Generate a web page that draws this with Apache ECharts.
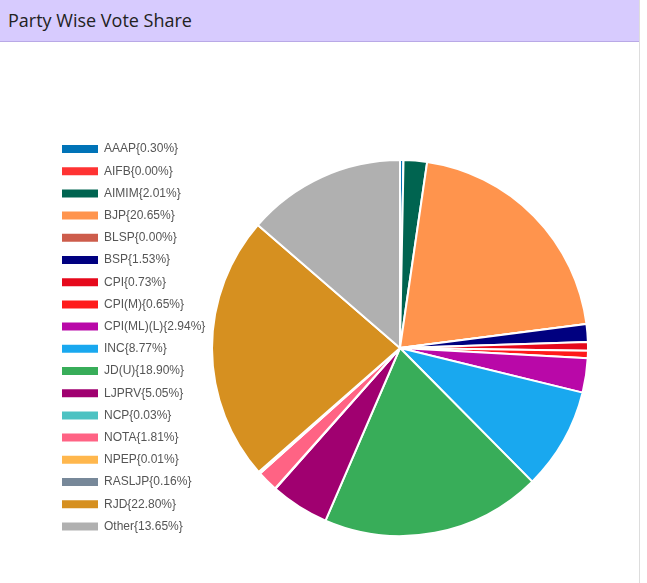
<!DOCTYPE html>
<html><head><meta charset="utf-8">
<script src="https://cdn.jsdelivr.net/npm/echarts@6/dist/echarts.min.js"></script>
<style>
html,body{margin:0;padding:0;width:647px;height:583px;overflow:hidden;background:#fff;font-family:"Open Sans",sans-serif;}
#wrap{position:absolute;left:0;top:0;width:639px;height:583px;border-right:1px solid #ddd;}
#hdr{height:42px;background:#d7cbfe;border-bottom:1px solid #b9a9e6;box-sizing:border-box;padding-left:8px;line-height:40px;font-size:18px;color:#222;}
#chart{position:absolute;left:0;top:43px;width:639px;height:540px;}
</style></head><body>
<div id="wrap"><div id="hdr">Party Wise Vote Share</div><div id="chart"></div></div>
<script>
const categories=["AAAP","AIFB","AIMIM","BJP","BLSP","BSP","CPI","CPI(M)","CPI(ML)(L)","INC","JD(U)","LJPRV","NCP","NOTA","NPEP","RASLJP","RJD","Other"];
const values=[0.30,0.00,2.01,20.65,0.00,1.53,0.73,0.65,2.94,8.77,18.90,5.05,0.03,1.81,0.01,0.16,22.80,13.65];
const colors=["#0073b7","#ff3333","#006450","#ff944d","#cd5c4b","#000080","#e6091c","#ff1a1a","#b908a8","#19a8ef","#38ad59","#a00070","#4cc2c2","#ff6384","#ffb74d","#778899","#d69020","#b0b0b0"];
const chart=echarts.init(document.getElementById('chart'));
chart.setOption({
 animation:false,
 color:colors,
 legend:{orient:'vertical',left:55,top:95,itemWidth:38,itemHeight:10,itemGap:10.2,icon:'rect',
  textStyle:{fontFamily:'Arial, Liberation Sans',fontSize:12,color:'#555'},
  formatter:n=>n+'{'+values[categories.indexOf(n)].toFixed(2)+'%}'},
 series:[{type:'pie',center:[400,305],radius:[0,188],startAngle:90,clockwise:true,
  label:{show:false},labelLine:{show:false},
  itemStyle:{borderColor:'#fff',borderWidth:2},
  data:categories.map((c,i)=>({name:c,value:values[i]}))}]
});
</script></body></html>
